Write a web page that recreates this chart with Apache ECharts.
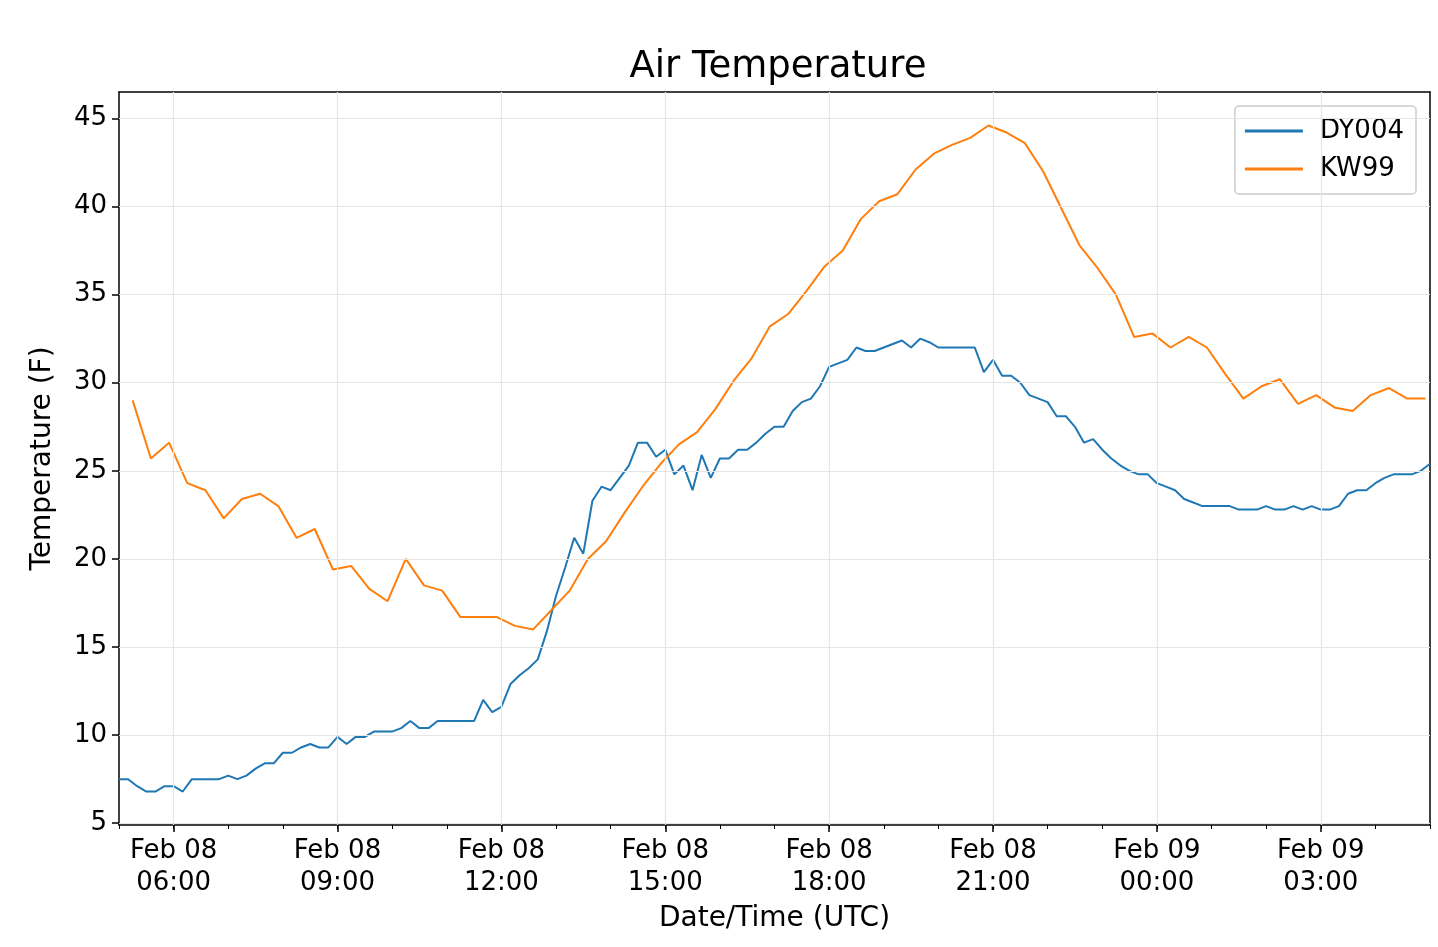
<!DOCTYPE html>
<html><head><meta charset="utf-8">
<script src="https://cdn.jsdelivr.net/npm/echarts@6/dist/echarts.min.js"></script>
<style>html,body{margin:0;padding:0;background:#fff}#c{width:1438px;height:947px}</style>
</head><body><div id="c"></div>
<script>
// x in hours since Feb 08 00:00 UTC
const xTickValues = [6, 9, 12, 15, 18, 21, 24, 27];
const xTickLabels = ['Feb 08\n06:00','Feb 08\n09:00','Feb 08\n12:00','Feb 08\n15:00','Feb 08\n18:00','Feb 08\n21:00','Feb 09\n00:00','Feb 09\n03:00'];
const yTickValues = [5, 10, 15, 20, 25, 30, 35, 40, 45];
// DY004: every 10 min from 05:00
const dy004 = [7.5,7.5,7.1,6.8,6.8,7.1,7.1,6.8,7.5,7.5,7.5,7.5,7.7,7.5,7.7,8.1,8.4,8.4,9.0,9.0,
9.3,9.5,9.3,9.3,9.9,9.5,9.9,9.9,10.2,10.2,10.2,10.4,10.8,10.4,10.4,10.8,10.8,10.8,10.8,10.8,
12.0,11.3,11.6,12.9,13.4,13.8,14.3,15.9,17.9,19.5,21.2,20.3,23.3,24.1,23.9,24.6,25.3,26.6,26.6,25.8,
26.2,24.8,25.3,23.9,25.9,24.6,25.7,25.7,26.2,26.2,26.6,27.1,27.5,27.5,28.4,28.9,29.1,29.8,30.9,31.1,
31.3,32.0,31.8,31.8,32.0,32.2,32.4,32.0,32.5,32.3,32.0,32.0,32.0,32.0,32.0,30.6,31.3,30.4,30.4,30.0,
29.3,29.1,28.9,28.1,28.1,27.5,26.6,26.8,26.2,25.7,25.3,25.0,24.8,24.8,24.3,24.1,23.9,23.4,23.2,23.0,
23.0,23.0,23.0,22.8,22.8,22.8,23.0,22.8,22.8,23.0,22.8,23.0,22.8,22.8,23.0,23.7,23.9,23.9,24.3,24.6,
24.8,24.8,24.8,25.0,25.4];
// KW99: every 20 min from 05:15
const kw99 = [29.0,25.7,26.6,24.3,23.9,22.3,23.4,23.7,23.0,21.2,
21.7,19.4,19.6,18.3,17.6,20.0,18.5,18.2,16.7,16.7,
16.7,16.2,16.0,17.1,18.2,20.0,21.0,22.6,24.1,25.4,
26.5,27.2,28.5,30.1,31.4,33.2,33.9,35.2,36.6,37.5,
39.3,40.3,40.7,42.1,43.0,43.5,43.9,44.6,44.2,43.6,
42.0,39.9,37.8,36.5,35.0,32.6,32.8,32.0,32.6,32.0,
30.5,29.1,29.8,30.2,28.8,29.3,28.6,28.4,29.3,29.7,
29.1,29.1];
const dyData = dy004.map((v,i)=>[5 + i/6, v]);
const kwData = kw99.map((v,i)=>[5.25 + i/3, v]);
const hourTicks = []; for (let h=5; h<=29; h++) hourTicks.push(h);
const font = 'DejaVu Sans';
const gridLine = {color:'#e6e6e6', width:1.2, type:'solid'};
const chart = echarts.init(document.getElementById('c'));
chart.setOption({
  animation:false,
  textStyle:{fontFamily:font},
  title:{text:'Air Temperature', left:773, top:44, textAlign:'center', textStyle:{fontSize:37, fontWeight:'normal', color:'#000', fontFamily:font}},
  legend:{right:22, top:106, orient:'vertical', itemWidth:58, itemHeight:3, itemGap:12, padding:[12,12,12,10],
    borderColor:'#ccc', borderWidth:1.5, borderRadius:4, textStyle:{fontSize:26, color:'#000', fontFamily:font, padding:[0,0,0,12]},
    icon:'rect', data:['DY004','KW99']},
  grid:{left:119, right:8, top:92, bottom:122},
  xAxis:[{type:'value', min:5, max:29, position:'bottom',
    axisLine:{show:true, onZero:false, lineStyle:{color:'#000', width:1.5}},
    axisTick:{show:true, customValues:xTickValues, length:7, lineStyle:{color:'#000', width:1.5}},
    axisLabel:{customValues:xTickValues, formatter:v=>xTickLabels[xTickValues.indexOf(v)]||'', fontSize:26, color:'#000', lineHeight:32, margin:10, fontFamily:font},
    splitLine:{show:false},
    name:'Date/Time (UTC)', nameLocation:'middle', nameGap:80, nameTextStyle:{fontSize:28, color:'#000', fontFamily:font}},
   {type:'value', min:5, max:29, position:'bottom', axisLine:{show:false},
    axisTick:{show:true, customValues:hourTicks, length:4, lineStyle:{color:'#000', width:1}},
    axisLabel:{show:false}, splitLine:{show:false}},
   {type:'value', min:5, max:29, position:'top', axisLine:{show:true, onZero:false, lineStyle:{color:'#000', width:1.5}},
    axisTick:{show:false}, axisLabel:{show:false}, splitLine:{show:false}}],
  yAxis:[{type:'value', min:4.9, max:46.5,
    axisLine:{show:true, onZero:false, lineStyle:{color:'#000', width:1.5}},
    axisTick:{show:true, customValues:yTickValues, length:7, lineStyle:{color:'#000', width:1.5}},
    axisLabel:{customValues:yTickValues, fontSize:26, color:'#000', margin:12, fontFamily:font},
    splitLine:{show:false},
    name:'Temperature (F)', nameLocation:'middle', nameGap:62, nameTextStyle:{fontSize:28, color:'#000', fontFamily:font}},
   {type:'value', min:4.9, max:46.5, position:'right', axisLine:{show:true, onZero:false, lineStyle:{color:'#000', width:1.5}},
    axisTick:{show:false}, axisLabel:{show:false}, splitLine:{show:false}}],
  series:[
    {name:'DY004', type:'line', data:dyData, showSymbol:false, lineStyle:{color:'#1f77b4', width:2}, itemStyle:{color:'#1f77b4'}, z:3,
     markLine:{silent:true, symbol:'none', label:{show:false}, lineStyle:gridLine, animation:false,
       data:[...xTickValues.map(v=>({xAxis:v})), ...yTickValues.map(v=>({yAxis:v}))]}},
    {name:'KW99', type:'line', data:kwData, showSymbol:false, lineStyle:{color:'#ff7f0e', width:2}, itemStyle:{color:'#ff7f0e'}, z:3}
  ]
});
</script></body></html>
